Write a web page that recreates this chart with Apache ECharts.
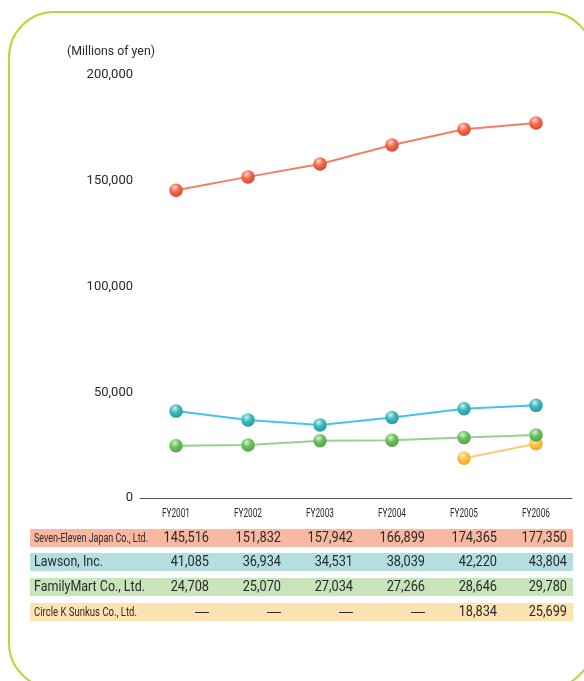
<!DOCTYPE html>
<html>
<head>
<meta charset="utf-8">
<style>
  html, body { margin: 0; padding: 0; background: #fff; }
  #chart { width: 584px; height: 681px; }
</style>
<script src="https://cdn.jsdelivr.net/npm/echarts@6/dist/echarts.min.js"></script>
</head>
<body>
<div id="chart"></div>
<script>
// data
const years = ['FY2001', 'FY2002', 'FY2003', 'FY2004', 'FY2005', 'FY2006']
const companies = ['Seven-Eleven Japan Co., Ltd.', 'Lawson, Inc.', 'FamilyMart Co., Ltd.', 'Circle K Sunkus Co., Ltd.']
const sevenEleven = [145516, 151832, 157942, 166899, 174365, 177350]
const lawson = [41085, 36934, 34531, 38039, 42220, 43804]
const familyMart = [24708, 25070, 27034, 27266, 28646, 29780]
const circleK = [null, null, null, null, 18834, 25699]
const yTicks = [0, 50000, 100000, 150000, 200000]

const FONT = 'Roboto, "Liberation Sans", Arial, sans-serif'

// colours per company: line, ball (light, base, dark), table row, label font + width
const styles = [
  { line: '#F47F62', ball: ['#FDD8CC', '#F26A4E', '#DE4128'], row: '#F9B8A1', size: 12.5, w: 114 },
  { line: '#45C3EE', ball: ['#CDEFF0', '#3DB8BE', '#23979E'], row: '#B3DFE0', size: 14.5, w: 69 },
  { line: '#95D290', ball: ['#D8F0D2', '#6BC05E', '#4CA340'], row: '#C7E4BB', size: 14.5, w: 111 },
  { line: '#FFCB70', ball: ['#FFEFCC', '#FFC14A', '#F0A420'], row: '#FEE3B2', size: 12.5, w: 103 },
]
const seriesData = [sevenEleven, lawson, familyMart, circleK]

const ball = (c) =>
  new echarts.graphic.RadialGradient(0.4, 0.3, 0.75, [
    { offset: 0, color: c[0] },
    { offset: 0.45, color: c[1] },
    { offset: 1, color: c[2] },
  ])

// squeeze text to a width, the original uses a condensed face
const ctx = document.createElement('canvas').getContext('2d')
const fit = (text, font, width) => {
  ctx.font = font
  return width / ctx.measureText(text).width
}

const chart = echarts.init(document.getElementById('chart'))

chart.setOption({
  animation: false,
  grid: { left: 140, right: 12, top: 75, bottom: 183 },
  xAxis: {
    type: 'category',
    data: years,
    axisLine: { lineStyle: { color: '#555', width: 1 } },
    axisTick: { show: false },
    axisLabel: { show: false },
  },
  yAxis: {
    type: 'value',
    min: 0,
    max: 200000,
    interval: 50000,
    axisLine: { show: false },
    axisTick: { show: false },
    splitLine: { show: false },
    axisLabel: {
      color: '#2a2a2a',
      fontSize: 13,
      fontFamily: FONT,
      margin: 7,
      formatter: (v) => (yTicks.includes(v) ? v.toLocaleString('en-US') : ''),
    },
  },
  series: seriesData.map((d, i) => ({
    type: 'line',
    name: companies[i],
    data: d,
    symbol: 'circle',
    symbolSize: 13.5,
    showSymbol: true,
    lineStyle: { color: styles[i].line, width: 2 },
    itemStyle: { color: ball(styles[i].ball) },
    z: 10 - i,
  })),
})

// frame, unit, x labels and table, placed from the laid-out axis
const rowTop = [529, 553, 578, 603]
const rowH = 18
const numFont = '14.5px ' + FONT
const numScale = 0.88
const dashFont = '14px "Liberation Sans", Arial, sans-serif'
const graphics = [
  {
    type: 'rect',
    shape: { x: 9, y: 12, width: 584, height: 676, r: 45 },
    style: { fill: null, stroke: '#B9D63A', lineWidth: 2 },
  },
  {
    type: 'text',
    x: 67,
    y: 52,
    scaleX: fit('(Millions of yen)', '12.5px ' + FONT, 88),
    style: { text: '(Millions of yen)', font: '12.5px ' + FONT, fill: '#2a2a2a', textVerticalAlign: 'middle' },
  },
]
years.forEach((y, c) => {
  const cx = chart.convertToPixel({ xAxisIndex: 0 }, c)
  graphics.push({
    type: 'text',
    x: cx,
    y: 514,
    scaleX: fit(y, '12px ' + FONT, 28),
    style: { text: y, font: '12px ' + FONT, fill: '#2a2a2a', textAlign: 'center', textVerticalAlign: 'middle' },
  })
})
companies.forEach((name, r) => {
  const cy = rowTop[r] + rowH / 2 + 0.5
  const lf = styles[r].size + 'px ' + FONT
  graphics.push({
    type: 'rect',
    shape: { x: 30, y: rowTop[r], width: 543, height: rowH },
    style: { fill: styles[r].row },
    z: 1,
  })
  graphics.push({
    type: 'text',
    x: 34,
    y: cy,
    scaleX: fit(name, lf, styles[r].w),
    style: { text: name, font: lf, fill: '#2a2a2a', textVerticalAlign: 'middle' },
    z: 2,
  })
  seriesData[r].forEach((v, c) => {
    const cx = chart.convertToPixel({ xAxisIndex: 0 }, c)
    const blank = v == null
    graphics.push({
      type: 'text',
      x: cx + (c === years.length - 1 ? 31 : 33),
      y: cy,
      scaleX: blank ? 1 : numScale,
      style: {
        text: blank ? '—' : v.toLocaleString('en-US'),
        font: blank ? dashFont : numFont,
        fill: '#2a2a2a',
        textAlign: 'right',
        textVerticalAlign: 'middle',
      },
      z: 2,
    })
  })
})
chart.setOption({ graphic: { elements: graphics } })
</script>
</body>
</html>
